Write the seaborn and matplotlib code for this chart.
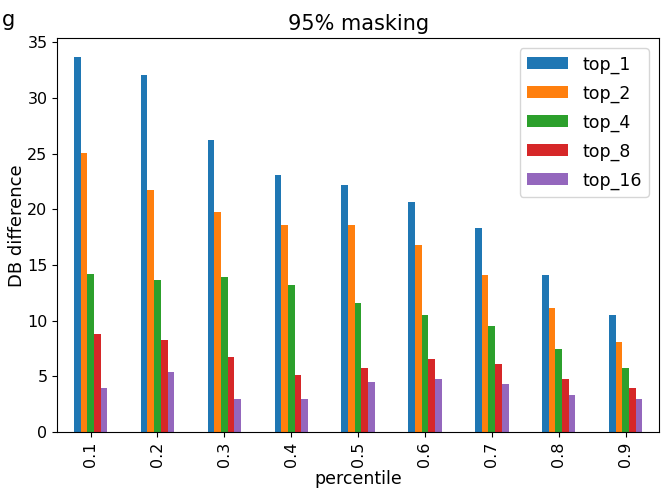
import pandas as pd
import matplotlib
matplotlib.use('Agg')
import matplotlib.pyplot as plt
import seaborn as sns

# --- Data ---
PERCENTILES = ['0.1', '0.2', '0.3', '0.4', '0.5', '0.6', '0.7', '0.8', '0.9']
TOP_1 = [33.7, 32.1, 26.2, 23.1, 22.2, 20.7, 18.3, 14.1, 10.5]
TOP_2 = [25.1, 21.7, 19.8, 18.6, 18.6, 16.8, 14.1, 11.1, 8.1]
TOP_4 = [14.2, 13.7, 13.9, 13.2, 11.6, 10.5, 9.5, 7.5, 5.8]
TOP_8 = [8.8, 8.3, 6.7, 5.1, 5.8, 6.6, 6.1, 4.8, 4.0]
TOP_16 = [4.0, 5.4, 3.0, 3.0, 4.5, 4.8, 4.3, 3.3, 3.0]
SERIES = ['top_1', 'top_2', 'top_4', 'top_8', 'top_16']

df = pd.DataFrame({
    'percentile': PERCENTILES,
    'top_1': TOP_1,
    'top_2': TOP_2,
    'top_4': TOP_4,
    'top_8': TOP_8,
    'top_16': TOP_16,
})
df_long = df.melt(id_vars='percentile', value_vars=SERIES,
                  var_name='series', value_name='value')

# --- Plot ---
fig = plt.figure(figsize=(6.65, 4.99), dpi=100)
ax = fig.add_axes([0.086, 0.134, 0.905, 0.79])

sns.barplot(
    data=df_long, x='percentile', y='value', hue='series',
    order=PERCENTILES, hue_order=SERIES,
    palette=sns.color_palette('tab10', 5),
    width=0.5, gap=0, saturation=1, errorbar=None, ax=ax
)

ax.set_xlim(-0.5, len(PERCENTILES) - 0.5)
ax.set_ylim(0, max(TOP_1) * 1.05)
ax.set_yticks([0, 5, 10, 15, 20, 25, 30, 35])
ax.tick_params(axis='both', labelsize=11.5)
ax.tick_params(axis='x', labelrotation=90)

ax.set_title('95% masking', fontsize=15)
ax.set_xlabel('percentile', fontsize=12.5, labelpad=2)
ax.set_ylabel('DB difference', fontsize=13)
# sits right against the tick labels, as in the reference
ax.yaxis.set_label_coords(-0.051, 0.523)

ax.legend(loc='upper right', fontsize=12.5, title=None,
          handlelength=2.4, labelspacing=0.62, borderaxespad=0.6)

# stray glyph from the cropped screenshot
fig.text(0.003, 0.948, 'g', fontsize=15, ha='left', va='baseline')

fig.savefig('out.png', dpi=100)
